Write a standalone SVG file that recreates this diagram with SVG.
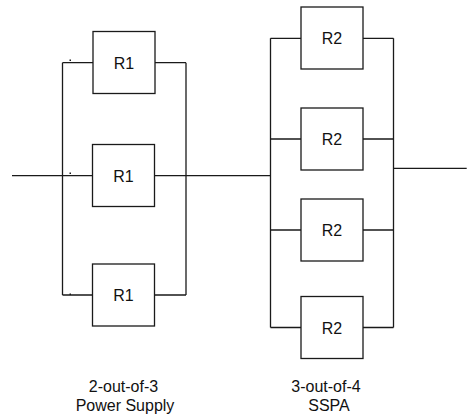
<svg xmlns="http://www.w3.org/2000/svg" width="467" height="417" viewBox="0 0 467 417">
  <style>
    .wire { fill: none; stroke: #1a1a1a; stroke-width: 1.3; }
    .box { fill: #ffffff; stroke: #1a1a1a; stroke-width: 1.3; }
    .lbl { font-family: "Liberation Sans", Arial, sans-serif; font-size: 16px; fill: #111111; text-anchor: middle; }
    .dot { fill: #1a1a1a; }
  </style>

  <!-- wiring: buses, branches, input/output leads -->
  <g id="connectors">
    <!-- 2-out-of-3 block -->
    <path class="wire" d="M12,175.7 H93"/>
    <path class="wire" d="M62.5,62.7 V295"/>
    <path class="wire" d="M62.5,62.7 H93 M62.5,295 H92.5"/>
    <path class="wire" d="M155,62.7 H186 M154.5,175.7 H270.5 M154.5,295 H186"/>
    <path class="wire" d="M186,62.7 V295"/>
    <!-- 3-out-of-4 block -->
    <path class="wire" d="M270.5,38.3 V327.5"/>
    <path class="wire" d="M270.5,38.3 H301 M270.5,139 H301 M270.5,230 H301 M270.5,327.5 H301"/>
    <path class="wire" d="M363,38.3 H393.5 M363,139 H393.5 M363,230 H393.5 M363,327.5 H393.5"/>
    <path class="wire" d="M393.5,38.3 V327.5"/>
    <path class="wire" d="M393.5,168.3 H466.7"/>
    <!-- small tick marks on the input branches -->
    <rect class="dot" x="69.5" y="59.5" width="1.5" height="1.5"/>
    <rect class="dot" x="69.5" y="172.5" width="1.5" height="1.5"/>
    <rect class="dot" x="69.5" y="293.5" width="1.5" height="1.5"/>
  </g>

  <!-- power supply units -->
  <g id="r1-a">
    <rect class="box" x="93" y="31.5" width="62" height="62"/>
    <text class="lbl" x="124" y="68.5">R1</text>
  </g>
  <g id="r1-b">
    <rect class="box" x="92.5" y="144.5" width="62" height="62"/>
    <text class="lbl" x="123.5" y="181.5">R1</text>
  </g>
  <g id="r1-c">
    <rect class="box" x="92.5" y="264" width="62" height="62"/>
    <text class="lbl" x="123.5" y="301">R1</text>
  </g>

  <!-- SSPA units -->
  <g id="r2-a">
    <rect class="box" x="301" y="7" width="62" height="62"/>
    <text class="lbl" x="332" y="44">R2</text>
  </g>
  <g id="r2-b">
    <rect class="box" x="301" y="108" width="62" height="62"/>
    <text class="lbl" x="332" y="145">R2</text>
  </g>
  <g id="r2-c">
    <rect class="box" x="301" y="199" width="62" height="62"/>
    <text class="lbl" x="332" y="236">R2</text>
  </g>
  <g id="r2-d">
    <rect class="box" x="301" y="296.5" width="62" height="62"/>
    <text class="lbl" x="332" y="333.5">R2</text>
  </g>

  <!-- block captions -->
  <g id="caption-ps">
    <text class="lbl" x="123.5" y="391.5">2-out-of-3</text>
    <text class="lbl" x="125" y="411">Power Supply</text>
  </g>
  <g id="caption-sspa">
    <text class="lbl" x="326" y="391.5">3-out-of-4</text>
    <text class="lbl" x="329" y="411">SSPA</text>
  </g>
</svg>
